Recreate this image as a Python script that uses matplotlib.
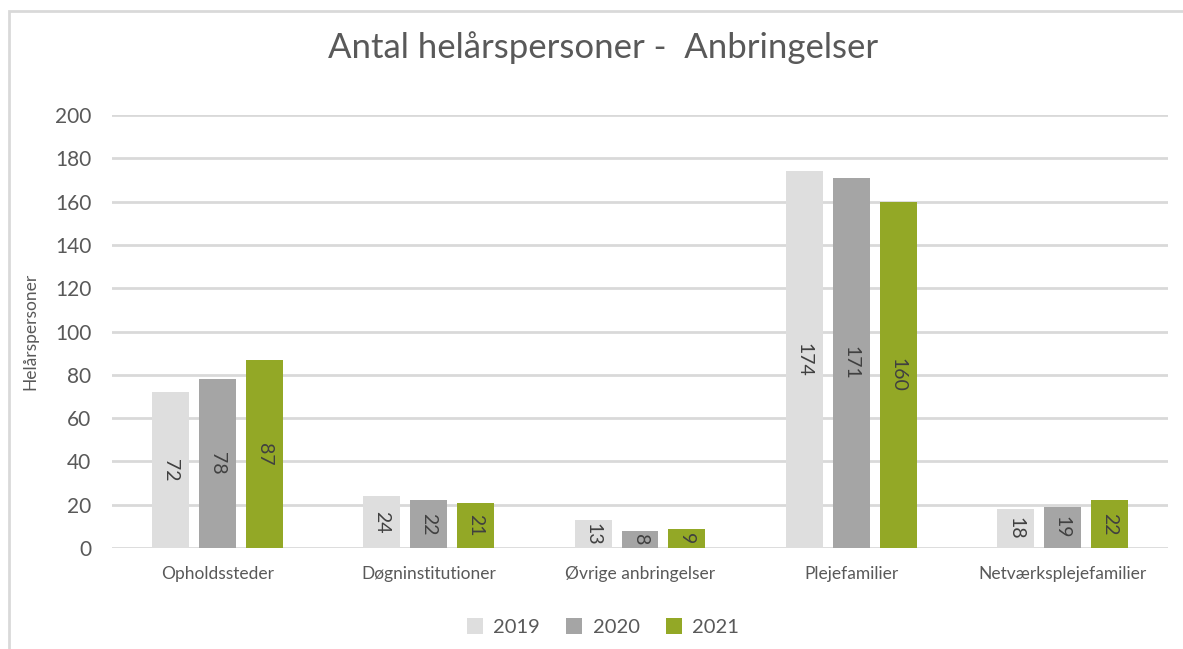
import matplotlib.pyplot as plt
import numpy as np
from matplotlib.patches import Rectangle

categories = ["Opholdssteder", "Døgninstitutioner", "Øvrige anbringelser",
              "Plejefamilier", "Netværksplejefamilier"]
years = ["2019", "2020", "2021"]
v2019 = [72, 24, 13, 174, 18]
v2020 = [78, 22, 8, 171, 19]
v2021 = [87, 21, 9, 160, 22]
yticks = [0, 20, 40, 60, 80, 100, 120, 140, 160, 180, 200]

colors = ["#DEDEDE", "#A5A5A5", "#93A826"]
text_col = "#595959"

plt.rcParams['font.family'] = ['Lato', 'DejaVu Sans']

fig = plt.figure(figsize=(11.83, 6.49), dpi=100)
ax = fig.add_axes([112 / 1183, 1 - 548 / 649, (1168 - 112) / 1183, (548 - 115) / 649])

# chart area frame
fig.patches.append(Rectangle((9 / 1183, -0.1), 1.2, 1 - 11 / 649 + 0.1,
                             transform=fig.transFigure, fill=False,
                             edgecolor="#D9D9D9", linewidth=2))

x = np.arange(len(categories))
width = 0.175
step = 0.222
for i, (vals, yr) in enumerate(zip([v2019, v2020, v2021], years)):
    pos = x + (i - 1) * step
    ax.bar(pos, vals, width, color=colors[i], label=yr, zorder=3)
    for px, v in zip(pos, vals):
        ax.text(px, v / 2, str(v), rotation=270, ha="center", va="center",
                fontsize=14, color="#404040", zorder=4)

ax.set_xlim(-0.5, len(categories) - 0.5)
ax.set_ylim(0, 200)
ax.set_yticks(yticks)
ax.set_xticks(x)
ax.set_xticklabels(categories, fontsize=12.5, color=text_col)
ax.tick_params(axis="y", labelsize=15, labelcolor=text_col, length=0, pad=15)
ax.tick_params(axis="x", length=0, pad=13)
ax.grid(axis="y", color="#D9D9D9", linewidth=2, zorder=0)
for s in ax.spines.values():
    s.set_visible(False)

ax.set_ylabel("Helårspersoner", fontsize=12.5, color=text_col, labelpad=12)

fig.text(603 / 1183, 1 - 48 / 649, "Antal helårspersoner -  Anbringelser",
         ha="center", va="center", fontsize=25, color=text_col)

leg = ax.legend(loc="center", bbox_to_anchor=(603 / 1183, 1 - 627 / 649),
                bbox_transform=fig.transFigure, ncol=3, frameon=False,
                fontsize=14.5, handlelength=0.8, handleheight=0.8,
                columnspacing=1.3, handletextpad=0.5)
for t in leg.get_texts():
    t.set_color(text_col)

fig.savefig("out.png", dpi=100)
